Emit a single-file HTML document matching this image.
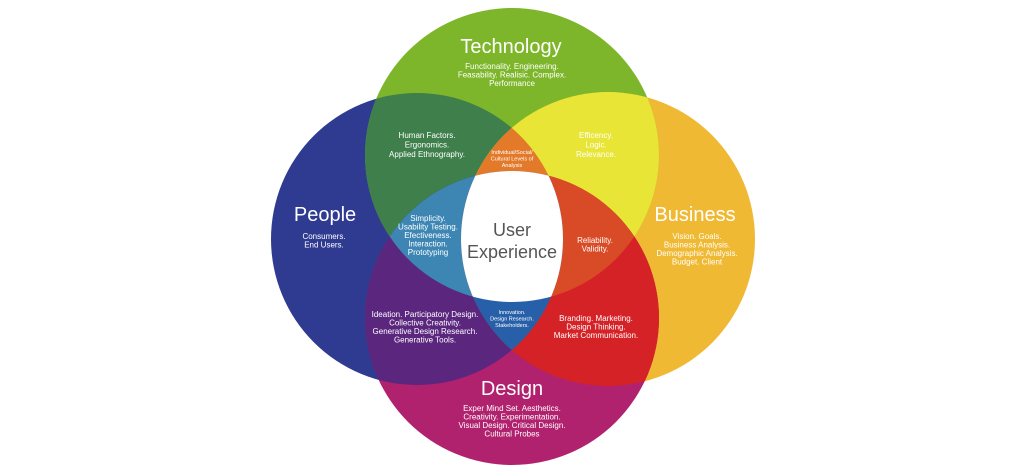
<!DOCTYPE html>
<html><head><meta charset="utf-8"><style>
html,body{margin:0;padding:0;background:#fff;width:1024px;height:473px;overflow:hidden}
text{font-family:"Liberation Sans",sans-serif;fill:#fff;text-anchor:middle}
.s{font-size:8px}
.xs{font-size:5.5px}
.t{font-size:20px}
</style></head><body>
<svg width="1024" height="473" viewBox="0 0 1024 473">
<defs>
<clipPath id="P"><circle cx="417" cy="239" r="146"/></clipPath>
<clipPath id="T"><circle cx="512" cy="155" r="147"/></clipPath>
<clipPath id="B"><circle cx="608" cy="239" r="147"/></clipPath>
<clipPath id="D"><circle cx="512" cy="318" r="147"/></clipPath>
</defs>
<circle cx="417" cy="239" r="146" fill="#2f3b90"/>
<circle cx="608" cy="239" r="147" fill="#f0b934"/>
<circle cx="512" cy="155" r="147" fill="#7db62a"/>
<circle cx="512" cy="318" r="147" fill="#b1226e"/>
<g clip-path="url(#P)"><circle cx="512" cy="155" r="147" fill="#3e7f4b"/></g>
<g clip-path="url(#B)"><circle cx="512" cy="155" r="147" fill="#e8e536"/></g>
<g clip-path="url(#P)"><circle cx="512" cy="318" r="147" fill="#5a267e"/></g>
<g clip-path="url(#B)"><circle cx="512" cy="318" r="147" fill="#d42226"/></g>
<g clip-path="url(#P)"><g clip-path="url(#B)"><circle cx="512" cy="155" r="147" fill="#e27a2a"/></g></g>
<g clip-path="url(#P)"><g clip-path="url(#T)"><circle cx="512" cy="318" r="147" fill="#3d86b4"/></g></g>
<g clip-path="url(#B)"><g clip-path="url(#T)"><circle cx="512" cy="318" r="147" fill="#d94a26"/></g></g>
<g clip-path="url(#P)"><g clip-path="url(#B)"><circle cx="512" cy="318" r="147" fill="#2760a8"/></g></g>
<g clip-path="url(#P)"><g clip-path="url(#B)"><g clip-path="url(#T)"><circle cx="512" cy="318" r="147" fill="#ffffff"/></g></g></g>

<text class="t" x="511" y="53">Technology</text>
<text class="s" x="512" y="69">Functionality. Engineering.</text>
<text class="s" x="512" y="77.5">Feasability. Realisic. Complex.</text>
<text class="s" x="512" y="86">Performance</text>

<text class="t" x="325" y="221">People</text>
<text class="s" x="324" y="239">Consumers.</text>
<text class="s" x="324" y="247.5">End Users.</text>

<text class="t" x="695" y="221">Business</text>
<text class="s" x="697" y="239">Vision. Goals.</text>
<text class="s" x="697" y="247.5">Business Analysis.</text>
<text class="s" x="697" y="256">Demographic Analysis.</text>
<text class="s" x="697" y="264.5">Budget. Client</text>

<text class="t" x="512" y="395">Design</text>
<text class="s" x="512" y="411">Exper Mind Set. Aesthetics.</text>
<text class="s" x="512" y="419.5">Creativity. Experimentation.</text>
<text class="s" x="512" y="428">Visual Design.  Critical Design.</text>
<text class="s" x="512" y="436.5">Cultural Probes</text>

<text class="s" x="427" y="138">Human Factors.</text>
<text class="s" x="427" y="147.5">Ergonomics.</text>
<text class="s" x="427" y="157">Applied Ethnography.</text>

<text class="s" x="596" y="138">Efficency.</text>
<text class="s" x="596" y="147.5">Logic.</text>
<text class="s" x="596" y="157">Relevance.</text>

<text class="xs" x="512" y="154">Individual/Social/</text>
<text class="xs" x="512" y="160.5">Cultural Levels of</text>
<text class="xs" x="512" y="167">Analysis</text>

<text class="s" x="428" y="221">Simplicity.</text>
<text class="s" x="428" y="229.5">Usability Testing.</text>
<text class="s" x="428" y="238">Efectiveness.</text>
<text class="s" x="428" y="246.5">Interaction.</text>
<text class="s" x="428" y="255">Prototyping</text>

<text x="512" y="236" style="font-size:18px;fill:#555">User</text>
<text x="512" y="258" style="font-size:18px;fill:#555">Experience</text>

<text class="s" x="595" y="243">Reliability.</text>
<text class="s" x="595" y="251.5">Validity.</text>

<text class="s" x="425" y="317">Ideation. Participatory Design.</text>
<text class="s" x="425" y="325.5">Collective Creativity.</text>
<text class="s" x="425" y="334">Generative Design Research.</text>
<text class="s" x="425" y="342.5">Generative Tools.</text>

<text class="xs" x="512" y="314">Innovation.</text>
<text class="xs" x="512" y="320.5">Design Research.</text>
<text class="xs" x="512" y="327">Stakeholders.</text>

<text class="s" x="596" y="321">Branding. Marketing.</text>
<text class="s" x="596" y="329.5">Design Thinking.</text>
<text class="s" x="596" y="338">Market Communication.</text>
</svg>
</body></html>
